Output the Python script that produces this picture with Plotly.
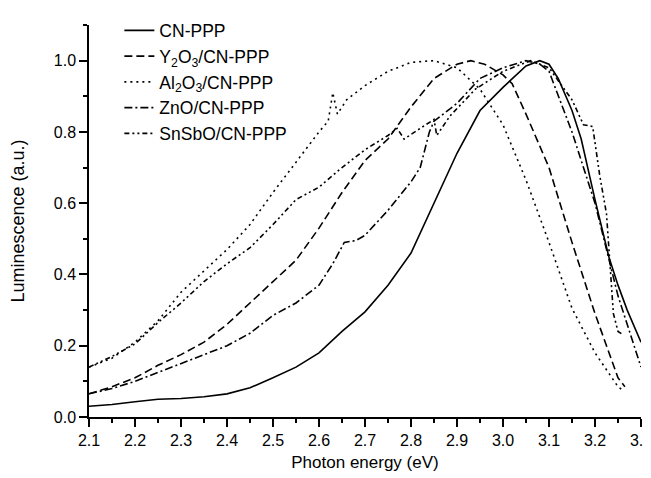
import plotly.graph_objects as go

# Photoluminescence spectra
cn_x = [2.10, 2.15, 2.20, 2.25, 2.30, 2.35, 2.40, 2.45, 2.50, 2.55, 2.60, 2.65, 2.70, 2.75,
        2.80, 2.85, 2.90, 2.95, 3.00, 3.05, 3.08, 3.10, 3.12, 3.15, 3.17, 3.20, 3.23, 3.25,
        3.27, 3.30]
cn_y = [0.030, 0.035, 0.043, 0.050, 0.052, 0.057, 0.065, 0.082, 0.110, 0.140, 0.180, 0.240,
        0.295, 0.370, 0.460, 0.600, 0.740, 0.860, 0.925, 0.985, 1.000, 0.990, 0.950, 0.860,
        0.780, 0.610, 0.450, 0.370, 0.300, 0.210]

y2o3_x = [2.10, 2.15, 2.20, 2.25, 2.30, 2.35, 2.40, 2.45, 2.50, 2.55, 2.60, 2.65, 2.70, 2.75,
          2.80, 2.85, 2.90, 2.93, 2.96, 3.00, 3.02, 3.05, 3.10, 3.15, 3.20, 3.25, 3.265]
y2o3_y = [0.065, 0.085, 0.110, 0.145, 0.175, 0.210, 0.260, 0.320, 0.380, 0.440, 0.530, 0.630,
          0.720, 0.780, 0.870, 0.950, 0.990, 1.000, 0.990, 0.960, 0.935, 0.850, 0.700, 0.490,
          0.290, 0.110, 0.085]

al2o3_x = [2.10, 2.15, 2.20, 2.25, 2.30, 2.35, 2.40, 2.45, 2.50, 2.55, 2.60, 2.62, 2.63, 2.64,
           2.66, 2.70, 2.75, 2.80, 2.85, 2.90, 2.95, 3.00, 3.05, 3.10, 3.15, 3.20, 3.25, 3.26]
al2o3_y = [0.140, 0.165, 0.210, 0.270, 0.350, 0.410, 0.470, 0.540, 0.630, 0.715, 0.800, 0.830,
           0.910, 0.850, 0.890, 0.930, 0.970, 0.995, 1.000, 0.980, 0.920, 0.820, 0.665, 0.490,
           0.305, 0.180, 0.085, 0.075]

zno_x = [2.10, 2.15, 2.20, 2.25, 2.30, 2.35, 2.40, 2.45, 2.50, 2.55, 2.60, 2.63, 2.655, 2.68,
         2.70, 2.75, 2.80, 2.82, 2.84, 2.85, 2.90, 2.95, 3.00, 3.05, 3.08, 3.10, 3.15, 3.20,
         3.25, 3.30]
zno_y = [0.065, 0.080, 0.100, 0.125, 0.150, 0.175, 0.200, 0.235, 0.285, 0.320, 0.370, 0.430,
         0.490, 0.495, 0.510, 0.580, 0.660, 0.700, 0.800, 0.830, 0.880, 0.950, 0.980, 1.000,
         0.990, 0.970, 0.800, 0.600, 0.340, 0.140]

snsbo_x = [2.10, 2.15, 2.20, 2.25, 2.30, 2.35, 2.40, 2.45, 2.50, 2.55, 2.60, 2.65, 2.70, 2.75,
           2.77, 2.785, 2.82, 2.85, 2.856, 2.885, 2.94, 3.00, 3.06, 3.10, 3.15, 3.175, 3.195,
           3.21, 3.225, 3.235, 3.24, 3.25, 3.262]
snsbo_y = [0.140, 0.170, 0.205, 0.265, 0.320, 0.380, 0.430, 0.475, 0.540, 0.610, 0.645, 0.700,
           0.750, 0.790, 0.810, 0.780, 0.810, 0.835, 0.790, 0.845, 0.920, 0.970, 1.000, 0.980,
           0.890, 0.820, 0.815, 0.680, 0.570, 0.400, 0.290, 0.240, 0.230]

series = [
    ("CN-PPP", cn_x, cn_y, "solid"),
    ("Y<sub>2</sub>O<sub>3</sub>/CN-PPP", y2o3_x, y2o3_y, "8px,4px"),
    ("Al<sub>2</sub>O<sub>3</sub>/CN-PPP", al2o3_x, al2o3_y, "2px,4px"),
    ("ZnO/CN-PPP", zno_x, zno_y, "8px,3px,2px,3px"),
    ("SnSbO/CN-PPP", snsbo_x, snsbo_y, "5px,3px,2px,3px,2px,3px"),
]

font = "Liberation Sans, Arial, sans-serif"

fig = go.Figure()
for name, xs, ys, dash in series:
    fig.add_trace(go.Scatter(x=xs, y=ys, mode="lines", name=name,
                             line=dict(color="black", width=1.6, dash=dash)))

axis_style = dict(showline=True, linecolor="black", linewidth=1.5, ticks="outside",
                  ticklen=8, tickwidth=1.5, tickcolor="black", showgrid=False,
                  zeroline=False, mirror=False, automargin=False,
                  ticklabeloverflow="allow",
                  tickfont=dict(family=font, size=16, color="black"))

fig.update_xaxes(range=[2.1, 3.3], tick0=2.1, dtick=0.1, tickformat=".1f",
                 title=dict(text="Photon energy (eV)", standoff=8,
                            font=dict(family=font, size=17, color="black")),
                 minor=dict(ticks="outside", ticklen=4, tickwidth=1.5, tickcolor="black",
                            dtick=0.05, tick0=2.1, showgrid=False),
                 **axis_style)
fig.update_yaxes(range=[0, 1.1], tick0=0, dtick=0.2, tickformat=".1f",
                 title=dict(text="Luminescence (a.u.)", standoff=27,
                            font=dict(family=font, size=18, color="black")),
                 minor=dict(ticks="outside", ticklen=4, tickwidth=1.5, tickcolor="black",
                            dtick=0.1, tick0=0, showgrid=False),
                 **axis_style)

# the page body adds an 8px offset, so the figure is sized to fit inside it
fig.update_layout(
    width=643, height=470,
    margin=dict(l=81, r=10, t=4, b=61),
    plot_bgcolor="white", paper_bgcolor="white",
    legend=dict(x=0.055, y=1.032, xanchor="left", yanchor="top",
                bgcolor="rgba(0,0,0,0)", tracegroupgap=0, itemwidth=30,
                font=dict(family=font, size=17.5, color="black")),
)

fig.write_html("out.html")
